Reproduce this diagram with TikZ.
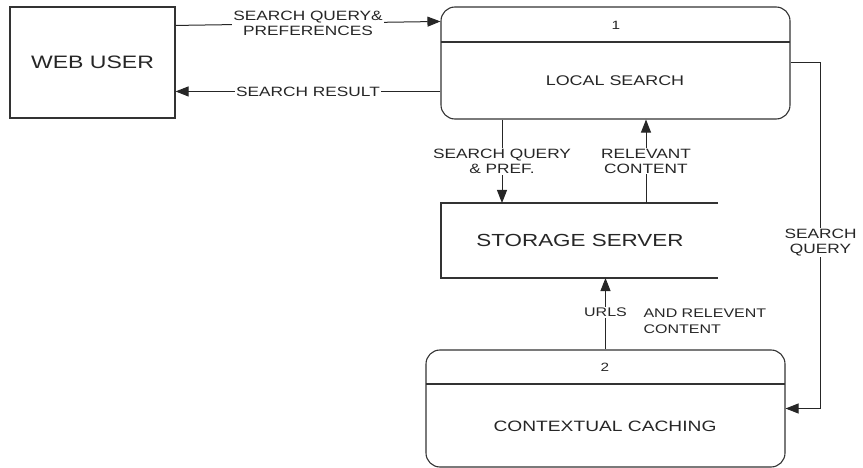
\documentclass[tikz,border=0pt]{standalone}
\usepackage{fontspec}
\setmainfont{Liberation Sans}[FakeStretch=1.28]
\usetikzlibrary{arrows.meta}
\begin{document}
\begin{tikzpicture}[x=1pt,y=-1pt,
  every node/.style={text=black!85},
  line/.style={line width=1pt,draw=black!85},
  arr/.style={line,-{Triangle[length=13pt,width=10pt]}},
  box/.style={line width=1.1pt,draw=black!80},
  proc/.style={box,rounded corners=14pt,inner sep=0pt},
  lbl/.style={fill=white,inner sep=1pt,align=center,font=\fontsize{13.5}{15}\selectfont},
  big/.style={font=\fontsize{#1}{#1}\selectfont}
]
\useasboundingbox (0,0) rectangle (863,468);

% external entity
\node[box,minimum width=165pt,minimum height=111pt,big=18] (web) at (92.5,62.5) {WEB USER};

% process 1
\node[proc,minimum width=349pt,minimum height=112pt] (local) at (615.5,63) {};
\draw[box] (441,42) -- (790,42);
\node[big=12] (n1) at (616,25) {1};
\node[big=14] (ls) at (615,81) {LOCAL SEARCH};

% data store (open on the right)
\draw[box] (718,203) -- (441,203) -- (441,278) -- (718,278);
\node[big=17.5] (storage) at (580,240) {STORAGE SERVER};
\coordinate (stIn) at (502,203);
\coordinate (stOut) at (646,203);
\coordinate (stBot) at (605.5,278);

% process 2
\node[proc,minimum width=359pt,minimum height=117pt] (cache) at (605.5,408.5) {};
\draw[box] (426,384) -- (785,384);
\node[big=12] (n2) at (605,367) {2};
\node[big=15] (cc) at (605,426) {CONTEXTUAL CACHING};

% data flows
\draw[arr] ([yshift=-19pt]web.north east) -- node[lbl] {SEARCH QUERY\&\\PREFERENCES} ([yshift=-15pt]local.north west);
\draw[arr] ([yshift=-85pt]local.north west) -- node[lbl] {SEARCH RESULT} ([yshift=-85pt]web.north east);
\draw[arr] (local.south -| stIn) -- node[lbl] {SEARCH QUERY\\\& PREF.} (stIn);
\draw[arr] (stOut) -- node[lbl] {RELEVANT\\CONTENT} (local.south -| stOut);
\draw[arr] (local.east) -- ++(30,0) |- node[lbl,pos=0.26] {SEARCH\\QUERY} (cache.east);
\draw[arr] (cache.north) -- node[lbl,font=\fontsize{12.5}{14}\selectfont,pos=0.52] {URLS} (stBot);
\node[anchor=west,align=left,font=\fontsize{12.5}{16}\selectfont] (urlnote) at (640,321) {AND RELEVENT\\CONTENT};
\end{tikzpicture}
\end{document}
